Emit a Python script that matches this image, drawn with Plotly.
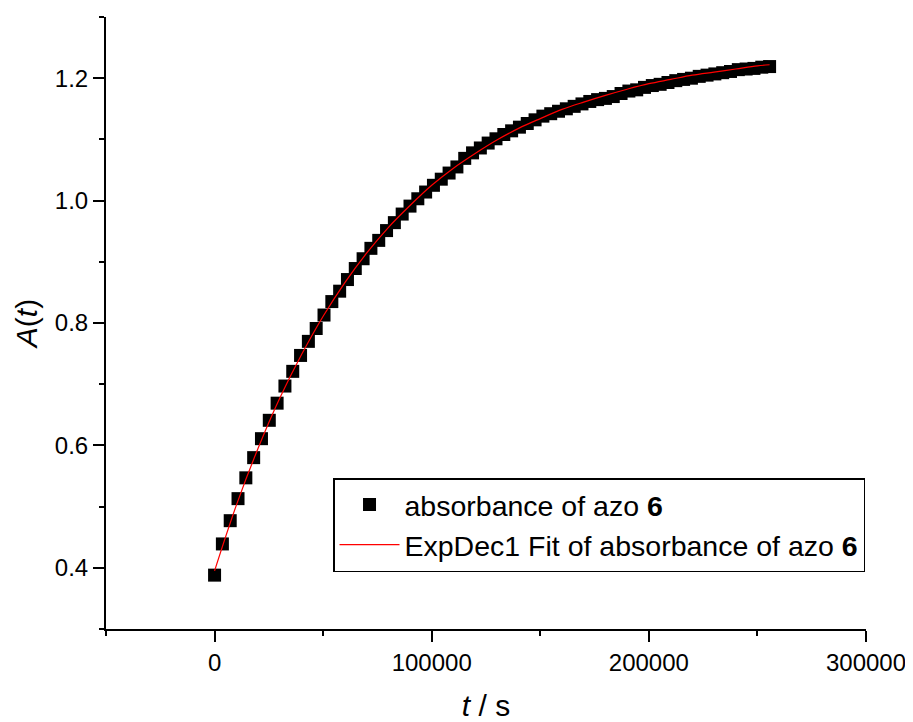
import plotly.graph_objects as go

# Measured time points (s) and absorbance of azo 6
t_data = [0, 3600, 7200, 10800, 14400, 18000, 21600, 25200, 28800, 32400,
          36000, 39600, 43200, 46800, 50400, 54000, 57600, 61200, 64800, 68400,
          72000, 75600, 79200, 82800, 86400, 90000, 93600, 97200, 100800, 104400,
          108000, 111600, 115200, 118800, 122400, 126000, 129600, 133200, 136800, 140400,
          144000, 147600, 151200, 154800, 158400, 162000, 165600, 169200, 172800, 176400,
          180000, 183600, 187200, 190800, 194400, 198000, 201600, 205200, 208800, 212400,
          216000, 219600, 223200, 226800, 230400, 234000, 237600, 241200, 244800, 248400,
          252000, 255600]
a_data = [0.388, 0.439, 0.477, 0.513, 0.547, 0.580, 0.611, 0.641, 0.669, 0.697,
          0.721, 0.747, 0.770, 0.791, 0.813, 0.835, 0.852, 0.871, 0.889, 0.905,
          0.922, 0.935, 0.951, 0.964, 0.978, 0.991, 1.003, 1.014, 1.025, 1.035,
          1.045, 1.055, 1.069, 1.078, 1.086, 1.094, 1.101, 1.108, 1.114, 1.120,
          1.126, 1.132, 1.138, 1.142, 1.146, 1.150, 1.154, 1.158, 1.162, 1.165,
          1.167, 1.170, 1.175, 1.179, 1.181, 1.185, 1.188, 1.190, 1.193, 1.196,
          1.198, 1.200, 1.203, 1.205, 1.207, 1.209, 1.211, 1.214, 1.215, 1.216,
          1.218, 1.219]

# ExpDec1 fit curve
t_fit = [0, 10000, 20000, 30000, 40000, 50000, 60000, 70000, 80000, 90000,
         100000, 110000, 120000, 130000, 140000, 150000, 160000, 170000, 180000,
         190000, 200000, 210000, 220000, 230000, 240000, 250000, 255600]
a_fit = [0.395, 0.502, 0.595, 0.677, 0.748, 0.811, 0.866, 0.914, 0.956, 0.992,
         1.025, 1.053, 1.077, 1.099, 1.118, 1.134, 1.149, 1.161, 1.172,
         1.182, 1.191, 1.198, 1.205, 1.210, 1.215, 1.220, 1.222]

x_ticks = [0, 100000, 200000, 300000]
x_tick_text = ["0", "100000", "200000", "300000"]
y_ticks = [0.4, 0.6, 0.8, 1.0, 1.2]
y_tick_text = ["0.4", "0.6", "0.8", "1.0", "1.2"]

FONT = "Liberation Sans, Arial, sans-serif"

fig = go.Figure()
fig.add_trace(go.Scatter(
    x=t_data, y=a_data, mode="markers",
    name="absorbance of azo <b>6</b>",
    marker=dict(symbol="square", size=13, color="black", line=dict(width=0)),
))
fig.add_trace(go.Scatter(
    x=t_fit, y=a_fit, mode="lines", line_shape="spline",
    name="ExpDec1 Fit of absorbance of azo <b>6</b>",
    line=dict(color="#ff0000", width=1.2),
))

axis_common = dict(
    showline=True, linewidth=2, linecolor="black", mirror=False,
    showgrid=False, zeroline=False,
    ticks="outside", ticklen=11, tickwidth=2, tickcolor="black",
    tickfont=dict(family=FONT, size=24, color="black"),
)

fig.update_xaxes(
    range=[-50000, 300000],
    tickvals=x_ticks, ticktext=x_tick_text,
    minor=dict(ticks="outside", ticklen=5, tickwidth=2, tickcolor="black", dtick=50000, tick0=0),
    title=dict(text="<i>t</i> / s", font=dict(family=FONT, size=30, color="black"), standoff=22),
    **axis_common,
)
fig.update_yaxes(
    range=[0.3, 1.3],
    tickvals=y_ticks, ticktext=y_tick_text,
    minor=dict(ticks="outside", ticklen=5, tickwidth=2, tickcolor="black", dtick=0.1, tick0=0.3),
    title=dict(text="<i>A</i>(<i>t</i>)", font=dict(family=FONT, size=30, color="black"), standoff=8),
    **axis_common,
)

fig.update_layout(
    width=905, height=714,
    margin=dict(l=98, r=47, t=9, b=93, autoexpand=False),
    plot_bgcolor="white", paper_bgcolor="white",
    showlegend=True,
    legend=dict(
        x=0.2987, y=0.2467, xanchor="left", yanchor="top",
        bgcolor="white", bordercolor="black", borderwidth=1.5,
        font=dict(family=FONT, size=28.5, color="black"),
        itemwidth=60, tracegroupgap=0,
    ),
)

fig.write_html("out.html")
